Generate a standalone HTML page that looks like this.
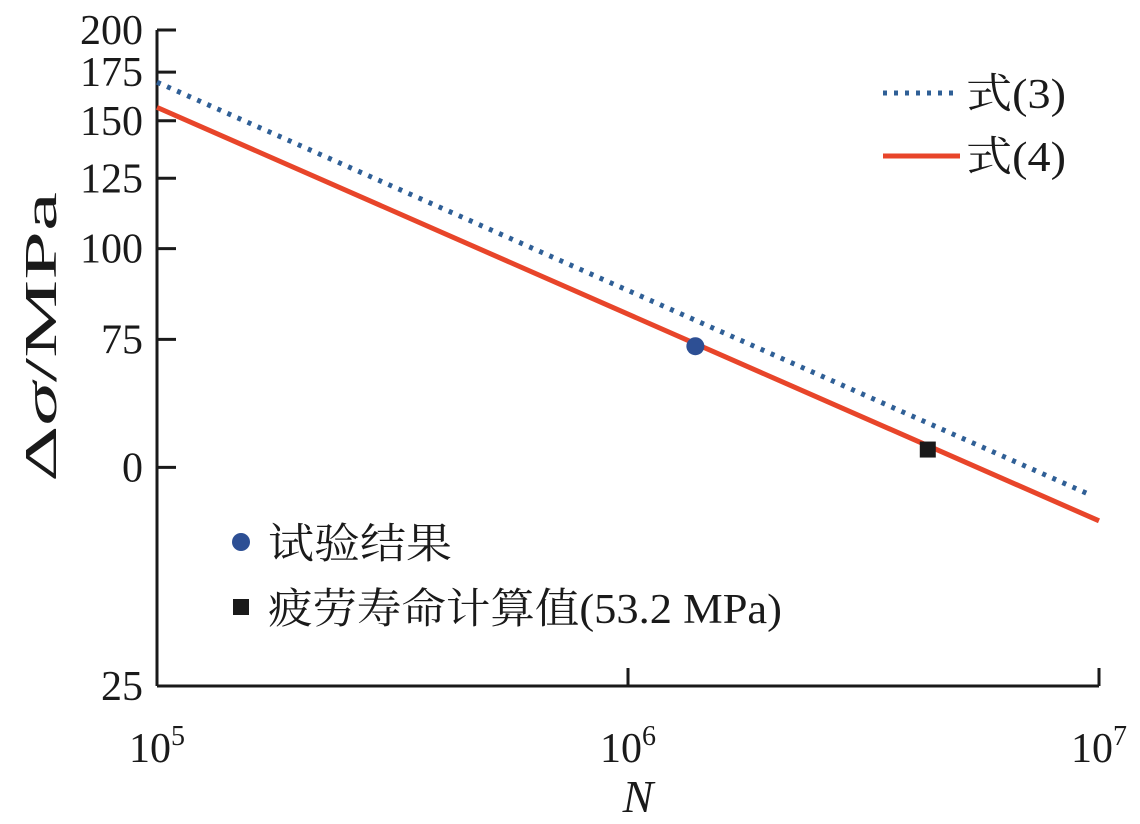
<!DOCTYPE html>
<html><head><meta charset="utf-8"><style>
html,body{margin:0;padding:0;background:#fff;}
svg{display:block;}
text{font-family:"Liberation Serif","Noto Serif CJK SC",serif;fill:#1a1a1a;}
</style></head><body>
<svg id="chart" width="1140" height="824"></svg>
<script>
const yTickValues=[200,175,150,125,100,75,50,25];
const yTickLabels=["200","175","150","125","100","75","0","25"];
const xTickValues=[1e5,1e6,1e7];
const xTickExponents=["5","6","7"];
const eq3N=[1e5,9.6e6];
const eq3S=[169.5,45.8];
const eq4N=[1e5,1e7];
const eq4S=[156.5,42.2];
const testN=[1.39e6];
const testS=[73.4];
const calcN=[4.33e6];
const calcS=[52.9];

const NS="http://www.w3.org/2000/svg";
const svg=document.getElementById('chart');
const X0=157,X1=1099,Y0=30,Y1=686;
function xs(n){return X0+(Math.log10(n)-5)/2*(X1-X0);}
function ys(s){return Y0+(Math.log10(200)-Math.log10(s))/(Math.log10(200)-Math.log10(25))*(Y1-Y0);}
function mk(tag,attrs,name,txt){const e=document.createElementNS(NS,tag);for(const k in attrs)e.setAttribute(k,attrs[k]);


if(txt!==undefined)e.textContent=txt;svg.appendChild(e);return e;}

mk('line',{x1:X0,y1:Y0,x2:X0,y2:Y1,stroke:'#1a1a1a','stroke-width':3},'y-axis-line');
mk('line',{x1:X0,y1:Y1,x2:X1,y2:Y1,stroke:'#1a1a1a','stroke-width':3},'x-axis-line');
yTickValues.forEach((v,i)=>{const y=ys(v);
mk('line',{x1:X0,y1:y,x2:X0+19,y2:y,stroke:'#1a1a1a','stroke-width':3},'y-tick');
mk('text',{x:X0-14,y:y+14,'text-anchor':'end','font-size':42},'y-tick-label',yTickLabels[i]);});
xTickValues.forEach((v,i)=>{const x=xs(v);
mk('line',{x1:x,y1:Y1,x2:x,y2:Y1-18,stroke:'#1a1a1a','stroke-width':3},'x-tick');
const t=mk('text',{x:x,y:Y1+76,'text-anchor':'middle','font-size':42},'x-tick-label');
t.innerHTML='10<tspan dy="-17" font-size="28">'+xTickExponents[i]+'</tspan>';});
mk('text',{x:638,y:812,'text-anchor':'middle','font-size':46,'font-style':'italic'},'x-axis-title','N');
const yt=mk('text',{x:0,y:0,'text-anchor':'middle','font-size':46,textLength:290,lengthAdjust:'spacingAndGlyphs',transform:'translate(56,337) rotate(-90)'},'y-axis-title');
yt.innerHTML='Δ<tspan font-style="italic">σ</tspan>/MPa';

mk('line',{x1:xs(eq3N[0]),y1:ys(eq3S[0]),x2:xs(eq3N[1]),y2:ys(eq3S[1]),stroke:'#2f5f96','stroke-width':5,'stroke-dasharray':'4 7'},'eq3-line');
mk('line',{x1:xs(eq4N[0]),y1:ys(eq4S[0]),x2:xs(eq4N[1]),y2:ys(eq4S[1]),stroke:'#e8452a','stroke-width':5},'eq4-line');
testN.forEach((n,i)=>mk('circle',{cx:xs(n),cy:ys(testS[i]),r:9,fill:'#2d4f94'},'test-result-point'));
calcN.forEach((n,i)=>mk('rect',{x:xs(n)-8,y:ys(calcS[i])-8,width:16,height:16,fill:'#1a1a1a'},'calculated-life-point'));

mk('line',{x1:883,y1:93,x2:960,y2:93,stroke:'#2f5f96','stroke-width':5,'stroke-dasharray':'4 7'},'legend-eq3-swatch');
mk('text',{x:966,y:108,'font-size':42,textLength:100,lengthAdjust:'spacingAndGlyphs'},'legend-eq3-label','式(3)');
mk('line',{x1:883,y1:156,x2:960,y2:156,stroke:'#e8452a','stroke-width':5},'legend-eq4-swatch');
mk('text',{x:966,y:171,'font-size':42,textLength:100,lengthAdjust:'spacingAndGlyphs'},'legend-eq4-label','式(4)');
mk('circle',{cx:241,cy:542,r:9,fill:'#2d4f94'},'legend-test-swatch');
mk('text',{x:268,y:558,'font-size':42,textLength:184,lengthAdjust:'spacingAndGlyphs'},'legend-test-label','试验结果');
mk('rect',{x:233,y:599,width:16,height:16,fill:'#1a1a1a'},'legend-calc-swatch');
mk('text',{x:268,y:623,'font-size':42,textLength:514,lengthAdjust:'spacingAndGlyphs'},'legend-calc-label','疲劳寿命计算值(53.2 MPa)');
</script>
</body></html>
